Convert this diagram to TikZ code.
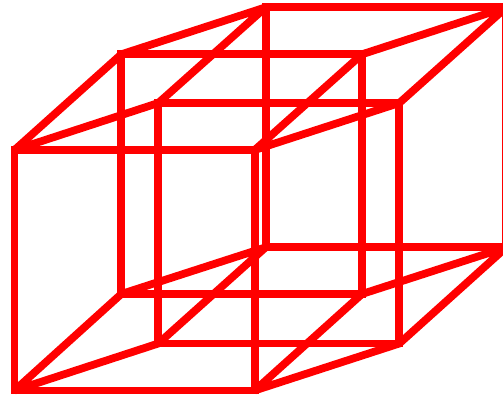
\documentclass[tikz,border=0pt]{standalone}
\usepackage{tikz}
\begin{document}
\begin{tikzpicture}[
    x=0.02cm, y=-0.02cm,
    edge/.style={draw=red, line width=0.155cm},
    slant/.style={edge, line join=bevel},
  ]
  \useasboundingbox (0,0) rectangle (503,395);
  \clip (0,0) rectangle (503,395);

  % front square
  \coordinate (fTL) at (14.5,150);
  \coordinate (fTR) at (254.7,150);
  \coordinate (fBR) at (254.7,390.5);
  \coordinate (fBL) at (14.5,390.5);
  % middle square
  \coordinate (mTL) at (121.3,54.3);
  \coordinate (mTR) at (362,54.3);
  \coordinate (mBR) at (362,294);
  \coordinate (mBL) at (121.3,294);
  % inner square
  \coordinate (iTL) at (158.3,103);
  \coordinate (iTR) at (399.3,103);
  \coordinate (iBR) at (399.3,343.5);
  \coordinate (iBL) at (158.3,343.5);
  % back square
  \coordinate (bTL) at (265.7,7.3);
  \coordinate (bTR) at (506.3,7.3);
  \coordinate (bBR) at (506.3,247.3);
  \coordinate (bBL) at (265.7,247.3);

  \draw[edge] (fTL) -- (fTR) -- (fBR) -- (fBL) -- cycle;
  \draw[edge] (mTL) -- (mTR) -- (mBR) -- (mBL) -- cycle;
  \draw[edge] (iTL) -- (iTR) -- (iBR) -- (iBL) -- cycle;
  \draw[edge] (bTL) -- (bTR) -- (bBR) -- (bBL) -- cycle;

  \draw[slant] (fTL) -- (mTL) -- (bTL) -- (iTL) -- cycle;
  \draw[slant] (fTR) -- (mTR) -- (bTR) -- (iTR) -- cycle;
  \draw[slant] (fBR) -- (mBR) -- (bBR) -- (iBR) -- cycle;
  \draw[slant] (fBL) -- (mBL) -- (bBL) -- (iBL) -- cycle;
\end{tikzpicture}
\end{document}
